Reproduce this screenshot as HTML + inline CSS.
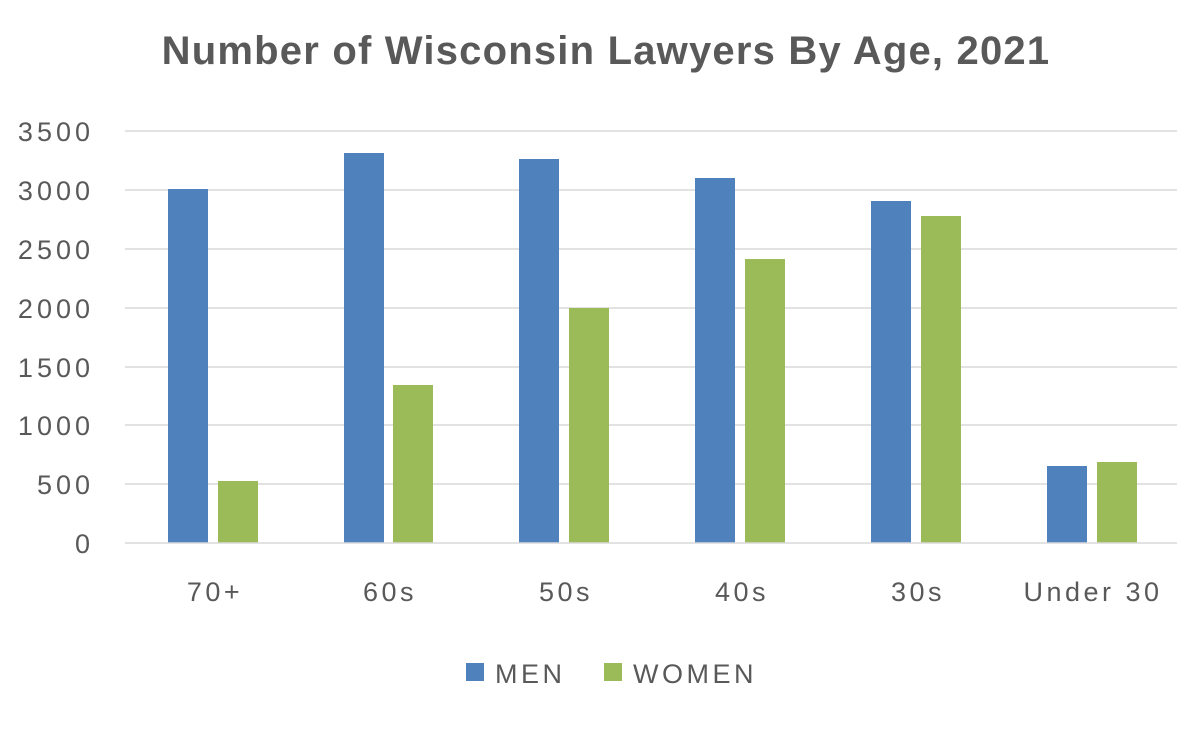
<!DOCTYPE html>
<html><head><meta charset="utf-8"><style>
html,body{margin:0;padding:0;background:#fff;}
</style></head><body>
<svg width="1200" height="725" xmlns="http://www.w3.org/2000/svg" font-family="Liberation Sans, sans-serif">
<rect width="1200" height="725" fill="#fff"/>
<text x="606" y="64" text-anchor="middle" font-size="40" font-weight="bold" fill="#595959" letter-spacing="1.2">Number of Wisconsin Lawyers By Age, 2021</text>
<g stroke="#d9d9d9" stroke-width="1.5">
<line x1="125" x2="1177" y1="131" y2="131"/>
<line x1="125" x2="1177" y1="190" y2="190"/>
<line x1="125" x2="1177" y1="249" y2="249"/>
<line x1="125" x2="1177" y1="308" y2="308"/>
<line x1="125" x2="1177" y1="367" y2="367"/>
<line x1="125" x2="1177" y1="425" y2="425"/>
<line x1="125" x2="1177" y1="484" y2="484"/>
</g>
<g font-size="27" fill="#595959" text-anchor="end" letter-spacing="4">
<text x="94" y="141">3500</text><text x="94" y="200">3000</text><text x="94" y="259">2500</text>
<text x="94" y="318">2000</text><text x="94" y="377">1500</text><text x="94" y="435">1000</text>
<text x="94" y="494">500</text><text x="94" y="553">0</text>
</g>
<g fill="#4f81bd">
<rect x="168" y="189" width="40" height="354"/>
<rect x="344" y="153" width="40" height="390"/>
<rect x="519" y="159" width="40" height="384"/>
<rect x="695" y="178" width="40" height="365"/>
<rect x="871" y="201" width="40" height="342"/>
<rect x="1047" y="466" width="40" height="77"/>
</g>
<g fill="#9bbb59">
<rect x="218" y="481" width="40" height="62"/>
<rect x="393" y="385" width="40" height="158"/>
<rect x="569" y="308" width="40" height="235"/>
<rect x="745" y="259" width="40" height="284"/>
<rect x="921" y="216" width="40" height="327"/>
<rect x="1097" y="462" width="40" height="81"/>
</g>
<line x1="125" x2="1177" y1="543" y2="543" stroke="#d9d9d9" stroke-width="1.5"/>
<g font-size="27" fill="#595959" text-anchor="middle" letter-spacing="3.5">
<text x="215" y="601">70+</text><text x="390" y="601">60s</text><text x="566" y="601">50s</text>
<text x="742" y="601">40s</text><text x="918" y="601">30s</text><text x="1093" y="601">Under 30</text>
</g>
<rect x="466" y="663" width="18" height="18" fill="#4f81bd"/>
<text x="495" y="683" font-size="27" fill="#595959" letter-spacing="3.5">MEN</text>
<rect x="604" y="663" width="18" height="18" fill="#9bbb59"/>
<text x="633" y="683" font-size="27" fill="#595959" letter-spacing="3.5">WOMEN</text>
</svg>
</body></html>
